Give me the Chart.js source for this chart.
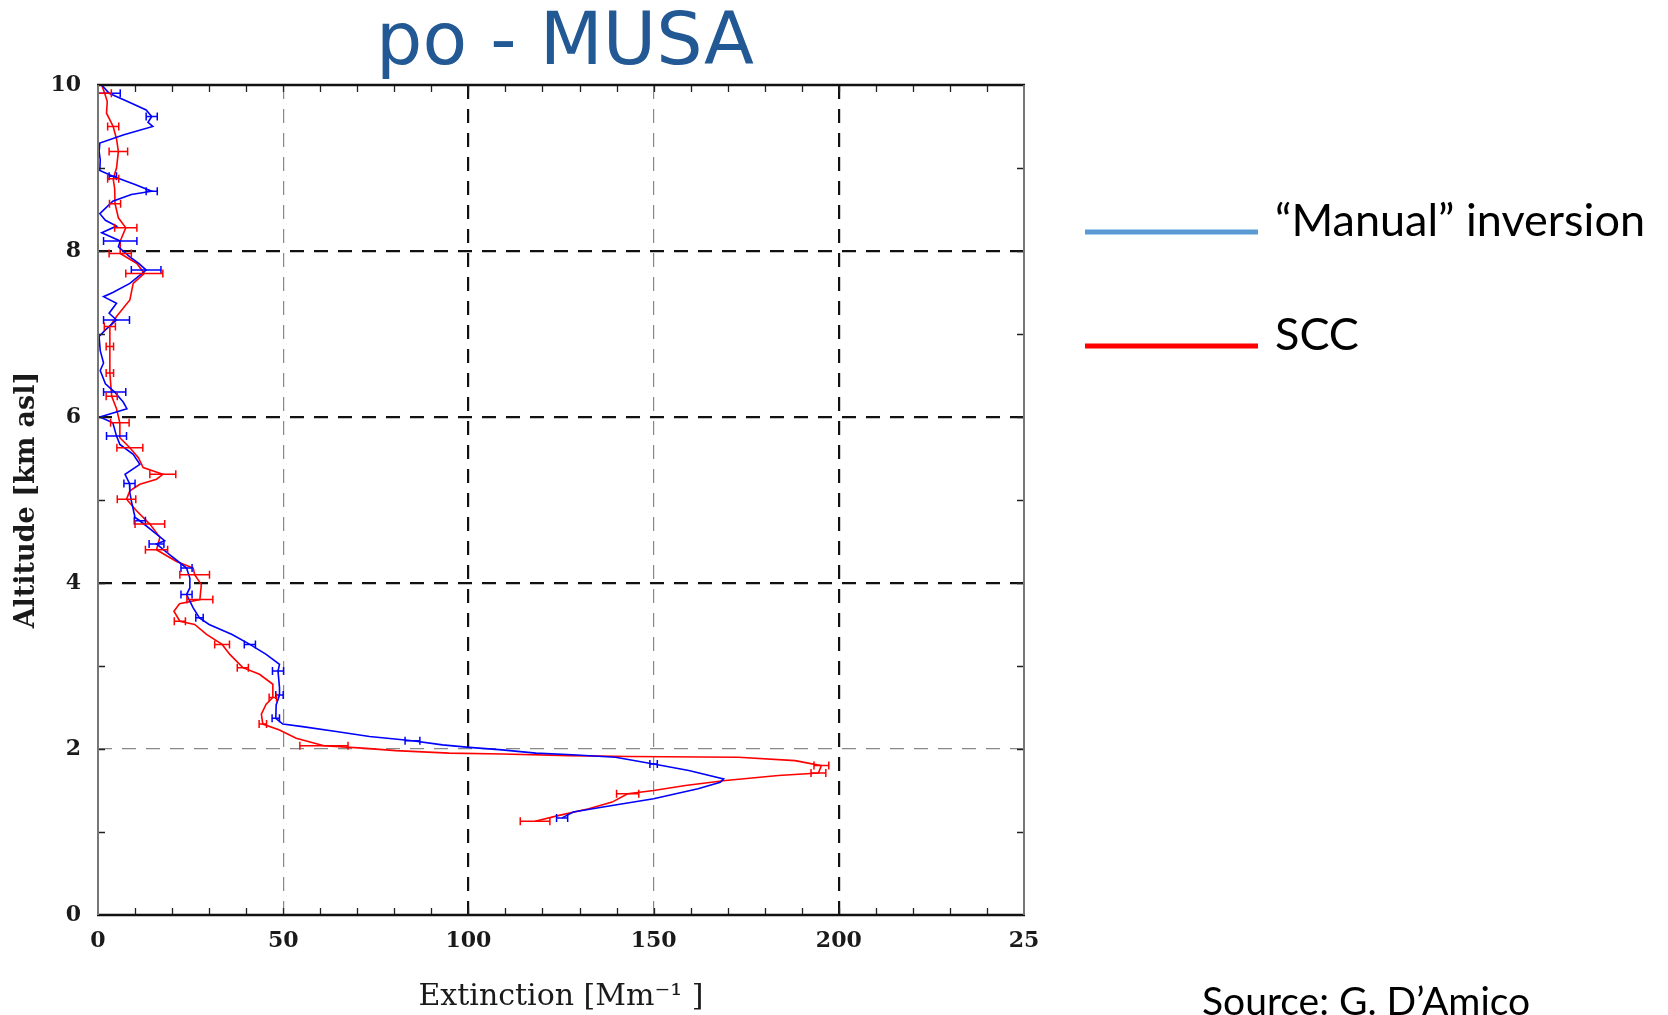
<!DOCTYPE html>
<html>
<head>
<meta charset="utf-8">
<title>po - MUSA</title>
<script src="https://cdn.jsdelivr.net/npm/chart.js@4.4.1/dist/chart.umd.min.js"></script>
<style>
  html, body { margin: 0; padding: 0; background: #fff; }
  #wrap { position: relative; width: 1668px; height: 1015px; }
</style>
</head>
<body>
<div id="wrap"><canvas id="profile"></canvas></div>
<script>
// Extinction profiles, from the top (10 km) down.
// altitude in km asl, extinction in Mm-1, err = half width of the error bar (0 = none)
const manualAlt = [
  10.0, 9.9, 9.8, 9.7, 9.62, 9.55, 9.5, 9.4, 9.3, 9.2,
  9.1, 8.97, 8.9, 8.8, 8.72, 8.68, 8.6, 8.45, 8.37, 8.3,
  8.22, 8.12, 8.05, 7.93, 7.85, 7.77, 7.61, 7.5, 7.45, 7.37,
  7.25, 7.17, 7.05, 6.97, 6.8, 6.65, 6.56, 6.4, 6.3, 6.18,
  6.1, 6.0, 5.93, 5.77, 5.67, 5.55, 5.43, 5.31, 5.2, 5.09,
  4.99, 4.79, 4.75, 4.59, 4.51, 4.47, 4.34, 4.18, 4.06, 3.94,
  3.86, 3.7, 3.58, 3.5, 3.38, 3.26, 3.14, 3.02, 2.94, 2.74,
  2.65, 2.53, 2.37, 2.3, 2.27, 2.21, 2.15, 2.1, 2.05, 2.02,
  1.99, 1.95, 1.93, 1.9, 1.82, 1.74, 1.64, 1.6, 1.52, 1.4,
  1.32, 1.24, 1.17
];
const manualExt = [
  1.0, 3.0, 8.0, 13.0, 14.5, 13.5, 14.8, 7.0, 0.5, 0.3,
  0.6, 0.5, 4.0, 10.0, 14.5, 9.0, 4.0, 0.5, 2.0, 5.0,
  1.0, 6.0, 5.5, 8.6, 11.0, 13.0, 8.6, 4.0, 1.5, 5.0,
  3.0, 5.0, 2.0, 0.3, 0.6, 1.5, 0.6, 2.0, 4.5, 6.8,
  7.8, 0.5, 4.0, 5.0, 5.9, 9.5, 11.3, 7.3, 8.5, 8.6,
  9.0, 10.0, 11.3, 15.8, 18.0, 15.8, 19.4, 23.9, 24.8, 24.8,
  23.9, 25.7, 27.4, 30.0, 36.2, 41.0, 45.4, 49.0, 48.6, 49.0,
  49.0, 48.1, 48.0, 49.9, 55.2, 64.3, 73.3, 84.9, 93.0, 100.2,
  109.1, 118.2, 128.0, 139.7, 150.0, 159.5, 168.9, 168.0, 162.0, 150.0,
  138.8, 128.3, 125.3
];
const manualErr = [
  0, 3.0, 0, 0, 1.5, 0, 0, 0, 0, 0,
  0, 0, 1.0, 0, 1.5, 0, 0, 0, 0, 0,
  0, 4.5, 0, 0, 0, 4.0, 0, 0, 0, 0,
  0, 3.5, 0, 0, 0, 0, 0, 0, 3.0, 0,
  0, 0, 0, 2.7, 0, 0, 0, 0, 1.5, 0,
  0, 0, 1.5, 0, 0, 2.0, 0, 1.5, 0, 0,
  1.5, 0, 1.0, 0, 0, 1.5, 0, 0, 1.5, 0,
  1.0, 0, 1.0, 0, 0, 0, 0, 2.0, 0, 0,
  0, 0, 0, 0, 1.0, 0, 0, 0, 0, 0,
  0, 0, 1.5
];

const sccAlt = [
  10.0, 9.9, 9.8, 9.66, 9.5, 9.35, 9.2, 9.0, 8.87, 8.75,
  8.57, 8.4, 8.28, 8.12, 7.97, 7.85, 7.73, 7.61, 7.41, 7.21,
  7.09, 6.85, 6.53, 6.25, 6.1, 5.93, 5.75, 5.63, 5.51, 5.39,
  5.31, 5.25, 5.19, 5.11, 5.01, 4.87, 4.71, 4.55, 4.4, 4.26,
  4.18, 4.1, 3.98, 3.8, 3.75, 3.66, 3.54, 3.5, 3.38, 3.26,
  3.14, 2.98, 2.9, 2.78, 2.62, 2.54, 2.42, 2.3, 2.23, 2.13,
  2.04, 2.01, 1.98, 1.95, 1.94, 1.92, 1.91, 1.9, 1.86, 1.8,
  1.71, 1.68, 1.62, 1.56, 1.5, 1.46, 1.36, 1.28, 1.2, 1.13
];
const sccExt = [
  1.0, 1.8, 2.5, 2.3, 4.1, 5.0, 5.5, 5.0, 4.1, 4.5,
  4.6, 5.5, 7.5, 6.0, 6.0, 10.5, 12.5, 9.5, 8.6, 5.0,
  3.2, 3.2, 3.2, 3.7, 5.0, 5.9, 5.9, 8.6, 10.9, 12.2,
  17.5, 15.8, 11.3, 8.6, 7.7, 10.4, 14.0, 16.7, 15.8, 21.2,
  25.7, 26.1, 27.9, 27.5, 22.0, 20.5, 22.1, 26.1, 29.3, 33.5,
  35.6, 39.1, 43.6, 47.2, 47.2, 45.4, 44.1, 44.5, 49.0, 53.5,
  61.0, 71.4, 80.4, 94.8, 109.2, 127.2, 143.3, 172.9, 188.2, 195.3,
  194.5, 183.7, 169.4, 158.6, 150.0, 143.0, 138.8, 132.5, 124.5, 118.0
];
const sccErr = [
  0, 1.8, 0, 0, 1.5, 0, 2.5, 0, 1.5, 0,
  1.5, 0, 3.0, 0, 3.0, 0, 5.0, 0, 0, 0,
  1.5, 1.0, 1.0, 1.5, 0, 2.5, 0, 3.5, 0, 0,
  3.5, 0, 0, 0, 2.5, 0, 4.0, 0, 3.0, 0,
  0, 4.0, 0, 3.5, 0, 0, 1.5, 0, 0, 2.0,
  0, 1.5, 0, 0, 1.0, 0, 0, 1.0, 0, 0,
  6.5, 0, 0, 0, 0, 0, 0, 0, 0, 2.0,
  2.0, 0, 0, 0, 0, 3.0, 0, 0, 0, 4.0
];

const seriesLabels = ['\u201CManual\u201D inversion', 'SCC'];
const lineColors = ['#0000ff', '#ff0000'];
const legendColors = ['#5b9bd5', '#ff0000'];
const xTickLabels = ['0', '50', '100', '150', '200', '25'];  // the last one is cut in the original
const yTickLabels = ['0', '2', '4', '6', '8', '10'];
const xMinorStep = 10;
const yMinorStep = 1;

const toPoints = (alt, ext) => alt.map((a, i) => ({ x: ext[i], y: a }));

// horizontal error bars, placed through the chart scales
const errorBars = {
  id: 'errorBars',
  afterDatasetsDraw(chart) {
    const { ctx, chartArea, scales: { x, y } } = chart;
    ctx.save();
    ctx.beginPath();
    ctx.rect(chartArea.left, chartArea.top, chartArea.right - chartArea.left, chartArea.bottom - chartArea.top);
    ctx.clip();
    chart.data.datasets.forEach(ds => {
      ctx.strokeStyle = ds.borderColor;
      ctx.lineWidth = 1.5;
      ctx.beginPath();
      ds.data.forEach((p, i) => {
        const e = ds.errors[i];
        if (!e) return;
        const x1 = x.getPixelForValue(p.x - e);
        const x2 = x.getPixelForValue(p.x + e);
        const py = y.getPixelForValue(p.y);
        ctx.moveTo(x1, py); ctx.lineTo(x2, py);
        ctx.moveTo(x1, py - 4); ctx.lineTo(x1, py + 4);
        ctx.moveTo(x2, py - 4); ctx.lineTo(x2, py + 4);
      });
      ctx.stroke();
    });
    ctx.restore();
  }
};

// box round the plot and the small inner ticks on all four sides
const frame = {
  id: 'frame',
  afterDraw(chart) {
    const { ctx, chartArea: { left, right, top, bottom }, scales: { x, y } } = chart;
    ctx.save();
    ctx.strokeStyle = '#222';
    ctx.lineWidth = 1.3;
    ctx.beginPath();
    for (let v = x.min + xMinorStep; v < x.max; v += xMinorStep) {
      const px = Math.round(x.getPixelForValue(v)) + 0.5;
      ctx.moveTo(px, bottom); ctx.lineTo(px, bottom - 7);
      ctx.moveTo(px, top); ctx.lineTo(px, top + 7);
    }
    for (let v = y.min + yMinorStep; v < y.max; v += yMinorStep) {
      const py = Math.round(y.getPixelForValue(v)) + 0.5;
      ctx.moveTo(left, py); ctx.lineTo(left + 7, py);
      ctx.moveTo(right, py); ctx.lineTo(right - 7, py);
    }
    ctx.stroke();

    ctx.lineWidth = 2.5;
    ctx.strokeStyle = '#111';
    ctx.beginPath();
    ctx.moveTo(left - 1, top); ctx.lineTo(right + 1, top);
    ctx.moveTo(left - 1, bottom); ctx.lineTo(right + 1, bottom);
    ctx.stroke();
    ctx.lineWidth = 2;
    ctx.strokeStyle = '#777';
    ctx.beginPath();
    ctx.moveTo(left, top); ctx.lineTo(left, bottom);
    ctx.moveTo(right, top); ctx.lineTo(right, bottom);
    ctx.stroke();
    ctx.restore();
  }
};

// title over the plot, legend and source note on the right
const captions = {
  id: 'captions',
  afterDraw(chart) {
    const { ctx, chartArea: { left, right } } = chart;
    ctx.save();
    ctx.textBaseline = 'alphabetic';
    ctx.textAlign = 'center';
    ctx.fillStyle = '#225893';
    ctx.font = '73px "DejaVu Sans"';
    ctx.fillText('po - MUSA', (left + right) / 2 + 4, 64);

    ctx.textAlign = 'left';
    ctx.font = '45px Lato';
    const rows = [232, 346];
    chart.data.datasets.forEach((ds, i) => {
      ctx.strokeStyle = legendColors[i];
      ctx.lineWidth = 5;
      ctx.beginPath();
      ctx.moveTo(1085, rows[i]); ctx.lineTo(1258, rows[i]);
      ctx.stroke();
      ctx.fillStyle = '#000';
      ctx.fillText(ds.label, 1275, rows[i] + 4);
    });

    ctx.font = '39px Lato';
    ctx.fillText('Source: G. D\u2019Amico', 1202, 1015);
    ctx.restore();
  }
};

const gridColor = (v, strong, weak) => strong.includes(v) ? '#111' : (weak.includes(v) ? '#888' : 'rgba(0,0,0,0)');
const gridWidth = (v, strong) => strong.includes(v) ? 2.2 : 1.2;

new Chart(document.getElementById('profile'), {
  type: 'scatter',
  data: {
    datasets: [
      {
        label: seriesLabels[0],
        data: toPoints(manualAlt, manualExt),
        errors: manualErr,
        borderColor: lineColors[0],
        backgroundColor: lineColors[0],
        borderWidth: 1.6,
        showLine: true,
        pointRadius: 0,
        tension: 0
      },
      {
        label: seriesLabels[1],
        data: toPoints(sccAlt, sccExt),
        errors: sccErr,
        borderColor: lineColors[1],
        backgroundColor: lineColors[1],
        borderWidth: 1.6,
        showLine: true,
        pointRadius: 0,
        tension: 0
      }
    ]
  },
  options: {
    responsive: true,
    maintainAspectRatio: false,
    animation: false,
    layout: { padding: { left: 0, top: 85, right: 644, bottom: 0 } },
    plugins: {
      legend: { display: false },
      title: { display: false },
      tooltip: { enabled: false }
    },
    scales: {
      x: {
        type: 'linear',
        min: 0,
        max: 250,
        afterFit: s => { s.height = 100; },
        border: { display: false, dash: [14, 10] },
        grid: {
          drawTicks: false,
          color: c => gridColor(c.tick && c.tick.value, [100, 200], [50, 150]),
          lineWidth: c => gridWidth(c.tick && c.tick.value, [100, 200])
        },
        ticks: {
          stepSize: 50,
          padding: 13,
          color: '#1a1a1a',
          font: { family: '"DejaVu Serif"', size: 22, weight: 'bold' },
          callback: (v, i) => xTickLabels[i]
        },
        title: {
          display: true,
          text: 'Extinction [Mm\u207B\u00B9 ]',
          color: '#1a1a1a',
          font: { family: '"DejaVu Serif"', size: 30 },
          padding: { top: 0, bottom: 0 }
        }
      },
      y: {
        type: 'linear',
        min: 0,
        max: 10,
        afterFit: s => { s.width = 98; },
        border: { display: false, dash: [14, 10] },
        grid: {
          drawTicks: false,
          color: c => gridColor(c.tick && c.tick.value, [4, 6, 8], [2]),
          lineWidth: c => gridWidth(c.tick && c.tick.value, [4, 6, 8])
        },
        ticks: {
          stepSize: 2,
          padding: 17,
          color: '#1a1a1a',
          font: { family: '"DejaVu Serif"', size: 22, weight: 'bold' },
          callback: (v, i) => yTickLabels[i]
        },
        title: {
          display: true,
          text: 'Altitude [km asl]',
          color: '#1a1a1a',
          font: { family: '"DejaVu Serif"', size: 27, weight: 'bold' },
          padding: { top: 11, bottom: 0 }
        }
      }
    }
  },
  plugins: [errorBars, frame, captions]
});
</script>
</body>
</html>
